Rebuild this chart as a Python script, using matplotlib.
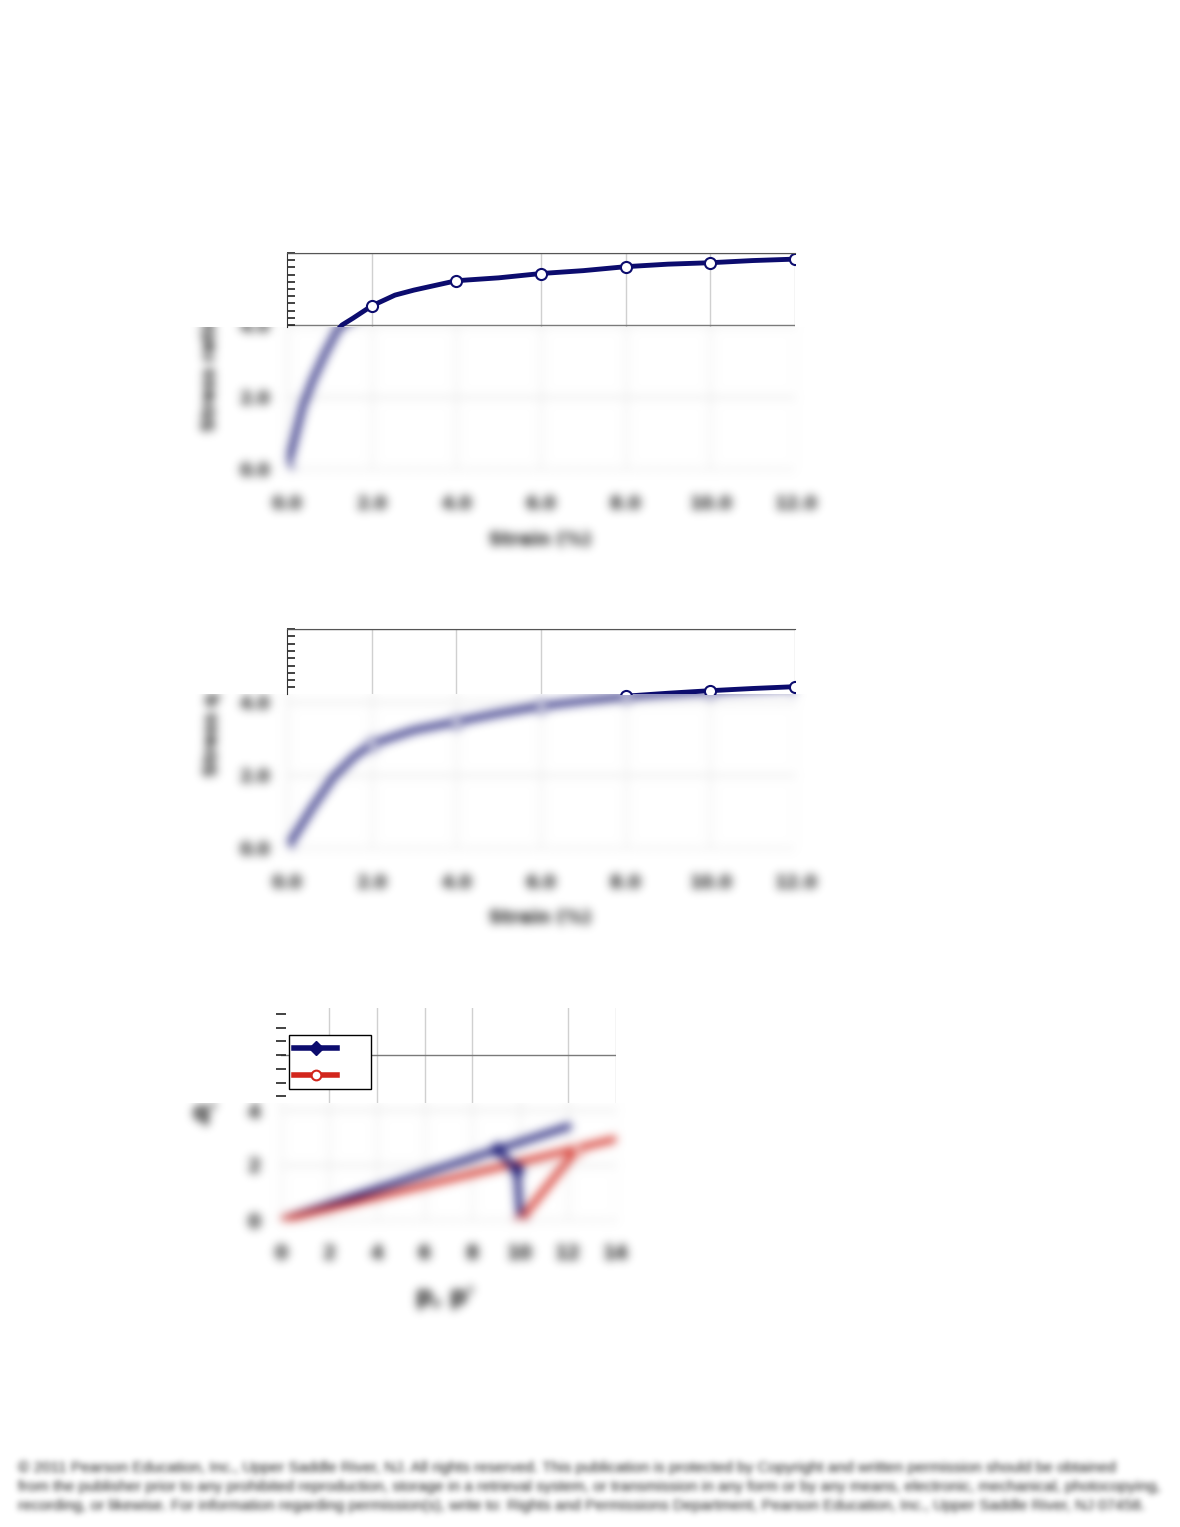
## Three stress-strain / stress-path panels, lower parts blurred like the preview page.
import numpy as np
import matplotlib
matplotlib.use('Agg')
import matplotlib.pyplot as plt
from matplotlib.patches import Rectangle
from matplotlib.ticker import MultipleLocator

W, H = 1180, 1527

## panel 1 : strain vs stress ratio
strain1 = [0, 0.37, 0.61, 0.9, 1.19, 1.3, 1.56, 2.0, 2.55, 3.0, 4.0, 5.0, 6.0, 7.0, 8.0, 9.0, 10.0, 11.0, 12.0]
ratio1 = [0, 1.73, 2.47, 3.21, 3.86, 4.0, 4.19, 4.53, 4.83, 4.97, 5.23, 5.31, 5.43, 5.51, 5.62, 5.69, 5.73, 5.79, 5.83]

## panel 2
strain2 = [0, 0.61, 1.1, 1.58, 2.0, 3.0, 4.0, 5.0, 6.0, 7.0, 8.0, 9.0, 10.0, 11.0, 12.0]
stress2 = [0, 1.13, 1.95, 2.5, 2.85, 3.23, 3.46, 3.69, 3.89, 4.03, 4.16, 4.24, 4.31, 4.37, 4.42]

strain_ticks = [0, 2, 4, 6, 8, 10, 12]
strain_labels = ['0.0', '2.0', '4.0', '6.0', '8.0', '10.0', '12.0']
ratio_ticks = [0, 2, 4, 6]
ratio_labels = ['0.0', '2.0', '4.0', '6.0']

## panel 3 : stress paths
esp_p = [10.0, 9.86, 9.02]
esp_q = [0.0, 1.82, 2.6]
tsp_p = [10.0, 12.35]
tsp_q = [0.0, 2.55]
env_eff_p = [0.0, 12.0]
env_eff_q = [0.0, 3.4]
env_tot_p = [0.0, 14.0]
env_tot_q = [0.0, 2.95]
p_ticks = [0, 2, 4, 6, 8, 10, 12, 14]
q_ticks = [0, 2, 4, 6, 8]

footer = ["\u00a9 2011 Pearson Education, Inc., Upper Saddle River, NJ. All rights reserved. This publication is protected by Copyright and written permission should be obtained",
          "from the publisher prior to any prohibited reproduction, storage in a retrieval system, or transmission in any form or by any means, electronic, mechanical, photocopying,",
          "recording, or likewise. For information regarding permission(s), write to: Rights and Permissions Department, Pearson Education, Inc., Upper Saddle River, NJ 07458."]

NAVY = '#0c0c6e'
RED = '#d2261c'


def make_blur(sigma):
    r = int(3 * sigma)
    x = np.arange(-r, r + 1)
    k = np.exp(-0.5 * (x / sigma) ** 2)
    k = k / k.sum()

    def blur(im, dpi):
        pad = r + 2
        a = np.pad(im, [(pad, pad), (pad, pad), (0, 0)]).astype(float)
        a[..., :3] *= a[..., 3:]
        for axis in (0, 1):
            out = np.zeros_like(a)
            for i, w in enumerate(k):
                out += w * np.roll(a, i - r, axis=axis)
            a = out
        alpha = np.clip(a[..., 3:], 0, 1)
        a[..., :3] = np.clip(a[..., :3] / np.maximum(alpha, 1e-6), 0, 1)
        a[..., 3:] = alpha
        return a, -pad, -pad
    return blur


def rect(left, top, right, bottom):
    return [left / W, 1 - bottom / H, (right - left) / W, (bottom - top) / H]


fig = plt.figure(figsize=(W / 100, H / 100), dpi=100)
blur = make_blur(4.8)


def blurred_axes(box, xlim, ylim, xt, xl, yt, yl, fs, pads):
    ax = fig.add_axes(rect(*box), zorder=0)
    ax.set_facecolor('none')
    ax.set_xlim(xlim)
    ax.set_ylim(ylim)
    ax.set_xticks(xt)
    ax.set_xticklabels(xl, fontsize=fs, fontweight='bold')
    ax.set_yticks(yt)
    ax.set_yticklabels(yl, fontsize=fs, fontweight='bold')
    ax.tick_params(axis='x', length=0, pad=pads[0], colors='#111111')
    ax.tick_params(axis='y', length=0, pad=pads[1], colors='#111111')
    ax.xaxis.grid(True, color='#e4e4e4', lw=1)
    ax.yaxis.grid(True, color='#d2d2d2', lw=1)
    ax.spines['top'].set_visible(False)
    ax.spines['right'].set_visible(False)
    ax.spines['left'].set_color('#dcdcdc')
    ax.spines['bottom'].set_color('#b8b8b8')
    ax.spines['bottom'].set_linestyle((0, (3, 6)))
    ax.set_agg_filter(blur)
    return ax


def sharp_axes(box, strip_top, strip_bottom, xlim, ymax, gridx, gridy, minor):
    left, top, right, bottom = box
    lo = ymax * (bottom - strip_bottom) / (bottom - top)
    hi = ymax * (bottom - strip_top) / (bottom - top)
    ax = fig.add_axes(rect(left, strip_top, right, strip_bottom), zorder=3)
    ax.set_xlim(xlim)
    ax.set_ylim(lo, hi)
    ax.set_xticks(gridx)
    ax.set_yticks(gridy)
    ax.yaxis.set_minor_locator(MultipleLocator(minor))
    ax.tick_params(axis='x', length=0, labelbottom=False)
    ax.tick_params(axis='y', which='both', direction='in', length=6, width=1.2,
                   color='#222222', labelleft=False)
    ax.xaxis.grid(True, color='#d0d0d0', lw=1)
    ax.yaxis.grid(True, color='#7a7a7a', lw=1)
    ax.spines['bottom'].set_visible(False)
    ax.spines['right'].set_visible(False)
    ax.spines['top'].set_color('#555555')
    ax.spines['left'].set_color('#333333')
    return ax


def cover(top, bottom):
    fig.add_artist(Rectangle((0, 1 - bottom / H), 1, (bottom - top) / H,
                             transform=fig.transFigure, facecolor='white',
                             edgecolor='none', zorder=1))


## ---------- panel 1 ----------
box1 = (287, 253, 795, 469)
marks1 = [i for i, s in enumerate(strain1) if s % 2 == 0]
ax = blurred_axes(box1, (0, 12), (0, 6), strain_ticks, strain_labels, ratio_ticks, ratio_labels, 12.5, (19, 12))
ax.plot(strain1, ratio1, color=NAVY, lw=4.2, marker='o', ms=8, mfc='white', mec=NAVY, mew=1.5,
        markevery=marks1)
ax.set_xlabel('Strain (%)', fontsize=13, fontweight='bold', va='center')
ax.xaxis.set_label_coords(0.498, -0.329)
ax.set_ylabel('Stress ratio', fontsize=13, fontweight='bold', va='center')
ax.yaxis.set_label_coords(-0.152, 0.449)
cover(150, 327)
ax = sharp_axes(box1, 253, 327, (0, 12), 6, [2, 6, 8, 10, 12], [4, 6], 0.2)
ax.plot(strain1, ratio1, color=NAVY, lw=3.5, marker='o', ms=8, mfc='white', mec=NAVY, mew=1.5,
        markevery=marks1)

## ---------- panel 2 ----------
box2 = (287, 629, 795, 848)
marks2 = [i for i, s in enumerate(strain2) if s % 2 == 0]
ax = blurred_axes(box2, (0, 12), (0, 6), strain_ticks, strain_labels, ratio_ticks, ratio_labels, 12.5, (19, 12))
ax.plot(strain2, stress2, color=NAVY, lw=4.2, marker='o', ms=8, mfc='white', mec=NAVY, mew=1.5,
        markevery=marks2)
ax.set_xlabel('Strain (%)', fontsize=13, fontweight='bold', va='center')
ax.xaxis.set_label_coords(0.498, -0.32)
ax.set_ylabel('Stress q', fontsize=13, fontweight='bold', va='center')
ax.yaxis.set_label_coords(-0.148, 0.516)
cover(560, 694)
ax = sharp_axes(box2, 629, 694, (0, 12), 6, [2, 4, 6, 12], [6], 0.2)
ax.plot(strain2, stress2, color=NAVY, lw=3.5, marker='o', ms=8, mfc='white', mec=NAVY, mew=1.5,
        markevery=marks2)

## ---------- panel 3 ----------
box3 = (281, 1000, 616, 1220)
ax = blurred_axes(box3, (0, 14), (0, 8), p_ticks, [str(v) for v in p_ticks], q_ticks,
                  [str(v) for v in q_ticks], 13.5, (17, 15))
ax.spines['left'].set_visible(False)
ax.plot(env_eff_p, env_eff_q, color=NAVY, lw=4.4)
ax.plot(env_tot_p, env_tot_q, color=RED, lw=4.4)
ax.plot(esp_p, esp_q, color=NAVY, lw=4.4, marker='D', ms=7)
ax.plot(tsp_p, tsp_q, color=RED, lw=4.4, marker='o', ms=7, mfc='white', mec=RED, mew=1.5)
ax.set_xlabel("p, p'", fontsize=17, fontweight='bold', va='center')
ax.xaxis.set_label_coords(0.49, -0.35)
ax.set_ylabel("q'", fontsize=17, fontweight='bold', rotation=0, va='center')
ax.yaxis.set_label_coords(-0.227, 0.486)
cover(950, 1103)
ax = sharp_axes(box3, 1008, 1103, (0, 14), 8, [2, 4, 6, 8, 12, 14], [6], 0.5)
ax.spines['top'].set_visible(False)
ax.spines['left'].set_visible(False)
ax.tick_params(axis='y', which='both', direction='inout', length=7)
h1, = ax.plot(esp_p, esp_q, color=NAVY, lw=4, marker='D', ms=7)
h2, = ax.plot(tsp_p, tsp_q, color=RED, lw=4, marker='o', ms=7, mfc='white', mec=RED, mew=1.5)
ax.legend([h1, h2], ['', ''], loc='upper left', bbox_to_anchor=(289 / W, 1 - 1035 / H),
          bbox_transform=fig.transFigure, borderaxespad=0, fontsize=12, handlelength=2.6,
          handletextpad=1.7, borderpad=0.3, labelspacing=0.5, fancybox=False,
          edgecolor='black', framealpha=1)

## ---------- footer ----------
fblur = make_blur(3.0)
for i, line in enumerate(footer):
    t = fig.text(18 / W, 1 - (1468 + 19 * i) / H, line, fontsize=11.1, family='Liberation Sans',
                 color='#111111', va='center', ha='left')
    t.set_agg_filter(fblur)

fig.savefig('out.png', dpi=100, facecolor='white')
